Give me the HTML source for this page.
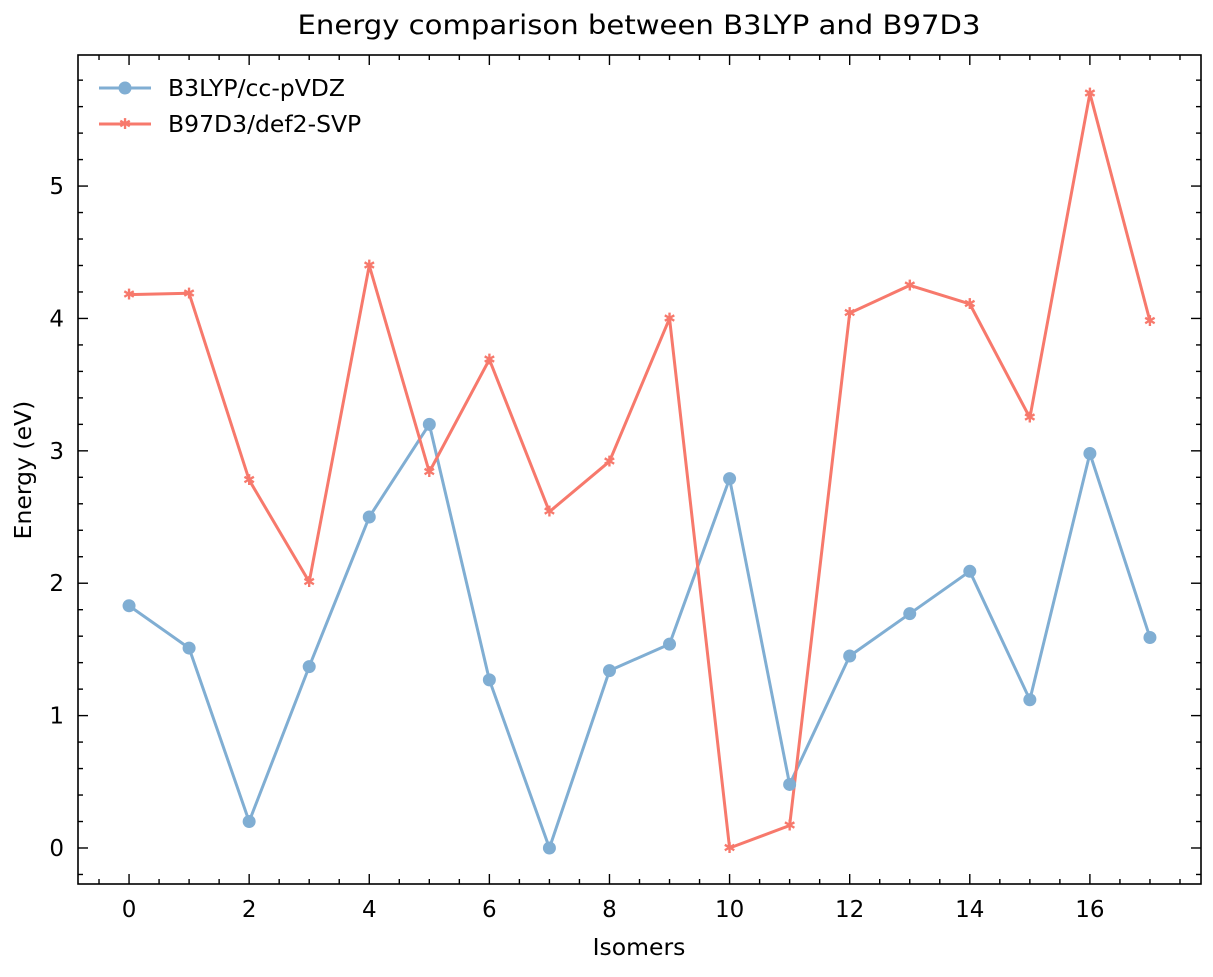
<!DOCTYPE html>
<html><head><meta charset="utf-8"><style>
html,body{margin:0;padding:0;background:#fff;}
svg text{font-family:"DejaVu Sans","Liberation Sans",sans-serif;fill:#000;}
</style></head><body>
<svg id="chart" width="1213" height="972" xmlns="http://www.w3.org/2000/svg">
<text x="639" y="34" text-anchor="middle" font-size="27" textLength="683" lengthAdjust="spacingAndGlyphs">Energy comparison between B3LYP and B97D3</text>
<text x="639" y="955" text-anchor="middle" font-size="23.5">Isomers</text>
<text transform="translate(31,470) rotate(-90)" text-anchor="middle" font-size="23.5">Energy (eV)</text>
<g id="ticks"></g>
<g id="series"></g>
<rect x="78" y="55" width="1123" height="829" fill="none" stroke="#000" stroke-width="1.6"/>
<g>
<line x1="99" y1="88" x2="151" y2="88" stroke="#80aed3" stroke-width="3"/>
<circle cx="125" cy="88" r="6.5" fill="#80aed3"/>
<text x="168" y="96" font-size="23.5">B3LYP/cc-pVDZ</text>
<line x1="99" y1="124" x2="151" y2="124" stroke="#f7796c" stroke-width="3"/>
<text x="125" y="129" text-anchor="middle" font-size="15" font-weight="bold" style="fill:#f7796c">✱</text>
<text x="168" y="132" font-size="23.5">B97D3/def2-SVP</text>
</g>
</svg>
<script>
const categories=[0,1,2,3,4,5,6,7,8,9,10,11,12,13,14,15,16,17];
const b3lypValues=[1.83,1.51,0.2,1.37,2.5,3.2,1.27,0,1.34,1.54,2.79,0.48,1.45,1.77,2.09,1.12,2.98,1.59];
const b97d3Values=[4.18,4.19,2.78,2.01,4.4,2.84,3.69,2.54,2.92,4.0,0,0.17,4.04,4.25,4.11,3.25,5.7,3.98];
const xTickLabels=[0,2,4,6,8,10,12,14,16];
const yTickLabels=[0,1,2,3,4,5];
const NS="http://www.w3.org/2000/svg";
const L=78,R=1201,T=55,B=884,xmin=-0.85,xmax=17.85,ymin=-0.272,ymax=5.99;
const X=v=>L+(v-xmin)/(xmax-xmin)*(R-L);
const Y=v=>B-(v-ymin)/(ymax-ymin)*(B-T);
function mk(tag,attrs,parent){const e=document.createElementNS(NS,tag);for(const k in attrs)e.setAttribute(k,attrs[k]);parent.appendChild(e);return e;}
const tg=document.getElementById('ticks');
function tick(x1,y1,x2,y2){mk('line',{x1,y1,x2,y2,stroke:'#000','stroke-width':1.4},tg);}
for(let v=-0.5;v<=17.6;v+=0.5){const x=X(v);const major=Math.abs(v/2-Math.round(v/2))<1e-6;const len=major?10:5;tick(x,B,x,B-len);tick(x,T,x,T+len);}
for(let i=-1;i<=29;i++){const v=i*0.2;if(v<ymin||v>ymax)continue;const y=Y(v);const major=i%5===0;const len=major?10:5;tick(L,y,L+len,y);tick(R,y,R-len,y);}
xTickLabels.forEach(v=>{const t=mk('text',{x:X(v),y:B+33,'text-anchor':'middle','font-size':23},tg);t.textContent=v;

});
yTickLabels.forEach(v=>{const t=mk('text',{x:L-14,y:Y(v)+8,'text-anchor':'end','font-size':23},tg);t.textContent=v;

});
const sg=document.getElementById('series');
function line(vals,color,name){const p=mk('polyline',{points:vals.map((v,i)=>X(categories[i])+','+Y(v)).join(' '),fill:'none',stroke:color,'stroke-width':3,'stroke-linejoin':'round'},sg);

}
line(b3lypValues,'#80aed3','b3lyp-line');
line(b97d3Values,'#f7796c','b97d3-line');
b3lypValues.forEach((v,i)=>{const c=mk('circle',{cx:X(categories[i]),cy:Y(v),r:6.5,fill:'#80aed3'},sg);

});
b97d3Values.forEach((v,i)=>{const t=mk('text',{x:X(categories[i]),y:Y(v)+5,'text-anchor':'middle','font-size':15,'font-weight':'bold',style:'fill:#f7796c'},sg);t.textContent='✱';

});
</script>
</body></html>
